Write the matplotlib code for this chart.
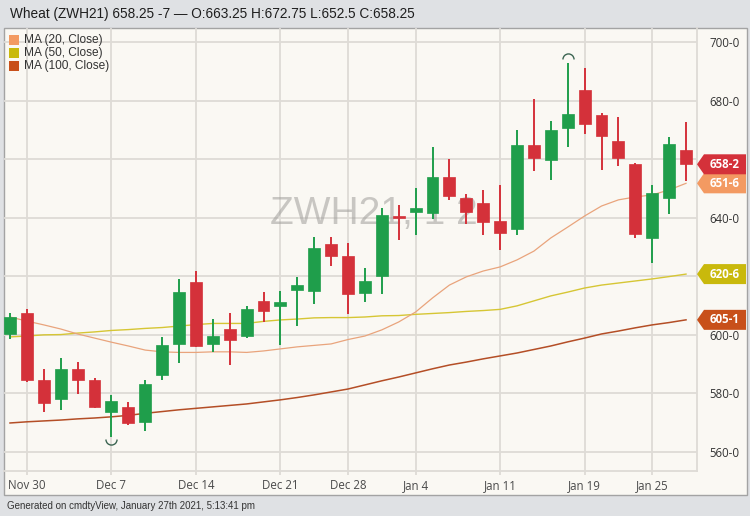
import matplotlib
matplotlib.use("Agg")
import matplotlib.pyplot as plt
import matplotlib.transforms as mtransforms
from matplotlib.patches import Rectangle, Polygon
from matplotlib.path import Path
import math

# ---------------- data ----------------
dates = ["Nov 27", "Nov 30", "Dec 1", "Dec 2", "Dec 3", "Dec 4",
         "Dec 7", "Dec 8", "Dec 9", "Dec 10", "Dec 11",
         "Dec 14", "Dec 15", "Dec 16", "Dec 17", "Dec 18",
         "Dec 21", "Dec 22", "Dec 23", "Dec 24",
         "Dec 28", "Dec 29", "Dec 30", "Dec 31",
         "Jan 4", "Jan 5", "Jan 6", "Jan 7", "Jan 8",
         "Jan 11", "Jan 12", "Jan 13", "Jan 14", "Jan 15",
         "Jan 19", "Jan 20", "Jan 21", "Jan 22",
         "Jan 25", "Jan 26", "Jan 27"]

opens = [600.25, 607.5, 584.75, 578.0, 588.5, 584.75, 573.75, 575.25, 570.25, 586.25,
         597.0, 618.0, 597.0, 602.0, 599.5, 611.5, 610.0, 615.25, 615.0, 631.0,
         627.0, 614.25, 620.0, 640.5, 642.0, 641.5, 653.75, 646.75, 645.0, 639.0,
         636.25, 664.75, 659.75, 670.75, 683.5, 675.0, 666.25, 658.25, 633.0, 646.75,
         663.25]
highs = [607.5, 608.75, 588.5, 592.25, 590.75, 585.25, 579.5, 577.0, 584.75, 599.25,
         619.0, 621.75, 605.5, 607.5, 610.0, 614.5, 615.0, 619.75, 633.5, 633.5,
         631.25, 623.0, 643.25, 644.25, 650.0, 664.25, 660.0, 648.25, 649.5, 651.25,
         670.0, 680.5, 673.0, 692.75, 691.0, 675.75, 674.5, 658.75, 651.25, 667.5,
         672.75]
lows = [598.5, 584.0, 573.75, 574.5, 579.75, 575.0, 565.25, 569.25, 567.0, 584.5,
        590.25, 595.75, 594.25, 589.75, 599.0, 604.5, 596.5, 603.0, 610.5, 623.5,
        607.0, 611.25, 614.0, 632.5, 634.0, 639.5, 646.0, 638.0, 634.0, 629.0,
        634.0, 656.0, 653.0, 664.25, 668.5, 656.25, 657.75, 633.0, 624.5, 641.25,
        652.5]
closes = [606.0, 584.75, 576.75, 588.5, 584.5, 575.25, 577.5, 569.75, 583.25, 596.5,
          614.5, 596.25, 599.5, 598.25, 608.75, 608.0, 611.25, 617.0, 629.75, 627.0,
          614.0, 618.5, 641.0, 639.75, 643.25, 653.75, 647.5, 642.0, 638.5, 634.75,
          664.75, 660.25, 670.0, 675.5, 672.0, 667.75, 660.5, 634.5, 648.5, 665.25,
          658.25]

ma20 = [606.1, 604.7, 603.4, 602.0, 600.3, 598.9, 597.5, 596.2, 594.8, 594.2,
        594.0, 594.0, 594.2, 594.2, 594.0, 594.5, 595.2, 595.9, 596.4, 596.9,
        598.4, 599.6, 601.7, 604.4, 607.8, 612.6, 617.0, 619.8, 621.8, 623.2,
        625.6, 628.6, 633.1, 636.8, 640.6, 644.0, 646.1, 647.1, 647.8, 649.5,
        651.75]
ma50 = [599.3, 599.6, 600.0, 600.1, 600.6, 601.0, 601.5, 601.8, 602.2, 602.5,
        603.0, 603.5, 603.9, 603.9, 603.9, 604.6, 605.1, 605.4, 605.8, 605.9,
        605.9, 606.1, 606.5, 606.6, 607.0, 607.3, 607.6, 608.0, 608.3, 608.7,
        609.9, 611.6, 613.3, 614.6, 616.0, 617.0, 617.7, 618.4, 619.1, 619.9,
        620.75]
ma100 = [569.9, 570.3, 570.6, 570.9, 571.3, 571.6, 572.0, 572.5, 573.2, 573.8,
         574.4, 574.9, 575.4, 575.9, 576.4, 577.1, 577.8, 578.6, 579.5, 580.5,
         581.5, 582.9, 584.3, 585.6, 587.0, 588.4, 589.7, 590.7, 591.8, 592.8,
         593.8, 595.0, 596.2, 597.6, 598.9, 600.3, 601.3, 602.4, 603.4, 604.2,
         605.125]

tick_dates = ["Nov 30", "Dec 7", "Dec 14", "Dec 21", "Dec 28", "Jan 4", "Jan 11", "Jan 19", "Jan 25"]
price_ticks = [560, 580, 600, 620, 640, 660, 680, 700]

title = "Wheat (ZWH21) 658.25 -7 \u2014 O:663.25 H:672.75 L:652.5 C:658.25"
watermark = "ZWH21, 1 2"
footer = "Generated on cmdtyView, January 27th 2021, 5:13:41 pm"
ma_labels = ["MA (20, Close)", "MA (50, Close)", "MA (100, Close)"]

# ---------------- style ----------------
W, H = 750, 516
OUTER = "#dfe1e4"
PANEL = "#faf8f3"
GRID = "#dedbd6"
GREEN = "#1f9e4b"
RED = "#d4313a"
C20 = "#f39a62"
C50 = "#c9b90c"
C100 = "#c8501a"
L20 = "#e9a47c"
L50 = "#d6c634"
L100 = "#b44e26"
MARK = "#3c6552"


def fx(px):
    return px / W


def fy(py):
    return 1 - py / H


def eighths(v):
    whole = math.floor(v + 1e-9)
    e = int(round((v - whole) * 8))
    if e == 8:
        whole += 1
        e = 0
    return f"{whole}-{e}"


fig = plt.figure(figsize=(7.5, 5.16), dpi=100)
fig.patch.set_facecolor(OUTER)

panel = Rectangle((fx(4), fy(495)), fx(747) - fx(4), fy(28) - fy(495),
                  transform=fig.transFigure, facecolor=PANEL, edgecolor="#a3a3a3",
                  lw=1.0, zorder=-5)
fig.add_artist(panel)

ax = fig.add_axes([fx(4), fy(471), fx(697) - fx(4), fy(28) - fy(471)])
ax.set_facecolor("none")

x = list(range(len(dates)))
ax.set_xlim(-0.355, 40.65)
ax.set_ylim(553.5, 704.8)

# values shown in the right-hand tags; axis labels hidden under them are blanked
tag_values = [ma100[-1], ma50[-1], ma20[-1], closes[-1]]
ylabels = []
for v in price_ticks:
    hidden = any(abs(v - t) < 4.5 for t in tag_values)
    ylabels.append("" if hidden else eighths(v))

ax.set_yticks(price_ticks)
ax.set_yticklabels(ylabels)
tick_pos = [dates.index(d) for d in tick_dates]
ax.set_xticks(tick_pos)
ax.set_xticklabels(tick_dates)
ax.grid(True, color=GRID, lw=1.3, zorder=0)
ax.set_axisbelow(True)

for s in ["left", "top"]:
    ax.spines[s].set_visible(False)
for s in ["right", "bottom"]:
    ax.spines[s].set_color(GRID)
    ax.spines[s].set_linewidth(1.3)

ax.yaxis.tick_right()
ax.tick_params(axis="y", length=0, pad=9, labelsize=8.3, labelcolor="#333333")
ax.tick_params(axis="x", length=3, width=1.3, color=GRID, pad=3, labelsize=8.3,
               labelcolor="#4a4a4a")
for lab in ax.get_xticklabels() + ax.get_yticklabels():
    lab.set_family(["Open Sans", "DejaVu Sans"])

# watermark
ax.text((374 - 4) / 693, (471 - 214) / 443, watermark, transform=ax.transAxes,
        ha="center", va="center", fontsize=28, color="#a09e9b", alpha=0.55,
        family=["Liberation Sans", "DejaVu Sans"], zorder=1)

# moving averages
ax.plot(x, ma100, color=L100, lw=1.1, zorder=2)
ax.plot(x, ma50, color=L50, lw=1.0, zorder=2)
ax.plot(x, ma20, color=L20, lw=0.9, zorder=2)

# candles
cols = [GREEN if c >= o else RED for o, c in zip(opens, closes)]
ax.vlines(x, lows, highs, colors=cols, lw=1.4, zorder=3)
bottoms = [min(o, c) for o, c in zip(opens, closes)]
heights = [max(abs(c - o), 0.45) for o, c in zip(opens, closes)]
ax.bar(x, heights, bottom=bottoms, width=0.7, color=cols, edgecolor=cols, lw=0.5, zorder=4)

# period high / low markers
lo_i = lows.index(min(lows))
hi_i = highs.index(max(highs))
low_tr = mtransforms.offset_copy(ax.transData, fig=fig, y=-2.5, units="dots")
high_tr = mtransforms.offset_copy(ax.transData, fig=fig, y=4.5, units="dots")
ax.plot([lo_i], [lows[lo_i]], marker=Path.arc(180, 360), ms=8, mfc="none",
        mec=MARK, mew=1.0, transform=low_tr, zorder=5, clip_on=False)
ax.plot([hi_i], [highs[hi_i]], marker=Path.arc(0, 180), ms=8, mfc="none",
        mec=MARK, mew=1.0, transform=high_tr, zorder=5, clip_on=False)

# legend
for k, (lab, c) in enumerate(zip(ma_labels, [C20, C50, C100])):
    yc = 40 + 13 * k
    fig.add_artist(Rectangle((fx(9), fy(yc + 5)), 10 / W, 10 / H,
                             transform=fig.transFigure, facecolor=c, edgecolor="none"))
    fig.text(fx(24), fy(yc), lab, ha="left", va="center", fontsize=8.6,
             color="#333333", family=["Liberation Sans", "DejaVu Sans"])

# value tags
fig.canvas.draw()
tag_colors = [C100, C50, C20, RED]
for v, c in zip(tag_values, tag_colors):
    yd = ax.transData.transform((0, v))[1]
    pts = [(697, yd), (704, yd + 10), (746, yd + 10), (746, yd - 10), (704, yd - 10)]
    poly = Polygon(pts, closed=True, transform=mtransforms.IdentityTransform(),
                   facecolor=c, edgecolor="none", zorder=10)
    fig.add_artist(poly)
    fig.text(725 / W, yd / H, eighths(v), ha="center", va="center", fontsize=8.3,
             color="white", fontweight="bold", family=["Open Sans", "DejaVu Sans"],
             zorder=11)

# title and footer
fig.text(fx(10), fy(14), title, ha="left", va="center", fontsize=9.8,
         color="#1e1e1e", family=["Liberation Sans", "DejaVu Sans"])
fig.text(fx(7), fy(506), footer, ha="left", va="center", fontsize=7,
         color="#333333", family=["Liberation Sans", "DejaVu Sans"])

fig.savefig("out.png", dpi=100, facecolor=OUTER)
